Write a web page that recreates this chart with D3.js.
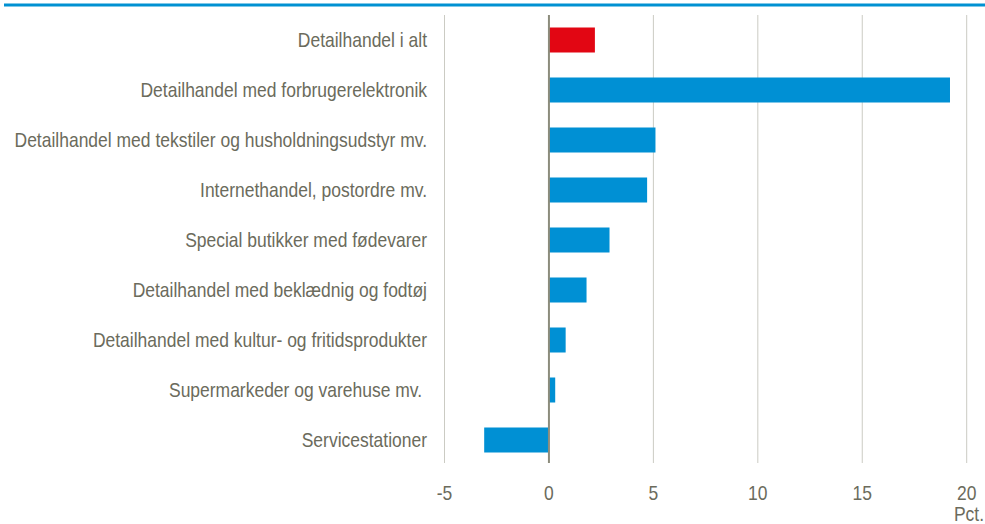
<!DOCTYPE html>
<html>
<head>
<meta charset="utf-8">
<script src="https://cdn.jsdelivr.net/npm/d3@7.9.0/dist/d3.min.js"></script>
<style>
  body { margin: 0; background: #fff; }
  text { font-family: "Liberation Sans Narrow", "Arial Narrow", "Liberation Sans", Arial, sans-serif; white-space: pre; }
</style>
</head>
<body>
<svg id="chart" width="985" height="524"></svg>
<script>
const categories = [
  "Detailhandel i alt",
  "Detailhandel med forbrugerelektronik",
  "Detailhandel med tekstiler og husholdningsudstyr mv.",
  "Internethandel, postordre mv.",
  "Special butikker med fødevarer",
  "Detailhandel med beklædnig og fodtøj",
  "Detailhandel med kultur- og fritidsprodukter",
  "Supermarkeder og varehuse mv. ",
  "Servicestationer"
];
const values = [2.2, 19.2, 5.1, 4.7, 2.9, 1.8, 0.8, 0.3, -3.1];
const highlight = ["Detailhandel i alt"];
const xTicks = [-5, 0, 5, 10, 15, 20];
const unitLabel = "Pct.";

const svg = d3.select("#chart");
const textColor = "#6b6b5c";

const x = d3.scaleLinear().domain([-5, 20]).range([444.5, 966.7]);
const y = d3.scaleBand().domain(categories).range([15, 465]).paddingInner(0.5).paddingOuter(0.25);

// top rule
svg.append("line")
  .attr("x1", 4).attr("x2", 985)
  .attr("y1", 5).attr("y2", 5)
  .attr("stroke", "#0091d2")
  .attr("stroke-width", 3);

// gridlines
svg.append("g")
  .selectAll("line")
  .data(xTicks.filter(d => d !== 0))
  .join("line")
  .attr("x1", d => x(d)).attr("x2", d => x(d))
  .attr("y1", 15).attr("y2", 463)
  .attr("stroke", "#cbcbc3")
  .attr("stroke-width", 1);

// bars
svg.append("g")
  .selectAll("rect")
  .data(categories)
  .join("rect")
  .attr("x", (d, i) => Math.min(x(0), x(values[i])))
  .attr("y", d => y(d))
  .attr("width", (d, i) => Math.abs(x(values[i]) - x(0)))
  .attr("height", y.bandwidth())
  .attr("fill", d => highlight.includes(d) ? "#e20613" : "#0090d4");

// zero line
svg.append("line")
  .attr("x1", x(0)).attr("x2", x(0))
  .attr("y1", 15).attr("y2", 463)
  .attr("stroke", "#8c8c7c")
  .attr("stroke-width", 2);

// category labels (squeezed to mimic a narrow font)
const labels = svg.append("g")
  .selectAll("text")
  .data(categories)
  .join("text")
  .attr("dy", "0.35em")
  .attr("text-anchor", "end")
  .attr("fill", textColor)
  .style("font-size", "20px")
  .text(d => d);

const longest = d3.max(labels.nodes(), n => n.getComputedTextLength());
const k = Math.min(1, 413 / longest);

labels.attr("transform", d => `translate(427, ${y(d) + y.bandwidth() / 2}) scale(${k}, 1)`);

// x tick labels
svg.append("g")
  .selectAll("text")
  .data(xTicks)
  .join("text")
  .attr("transform", d => `translate(${x(d)}, 500) scale(${k}, 1)`)
  .attr("text-anchor", "middle")
  .attr("fill", textColor)
  .style("font-size", "20px")
  .text(d => d);

svg.append("text")
  .attr("transform", `translate(984, 521) scale(${k}, 1)`)
  .attr("text-anchor", "end")
  .attr("fill", textColor)
  .style("font-size", "20px")
  .text(unitLabel);
</script>
</body>
</html>
